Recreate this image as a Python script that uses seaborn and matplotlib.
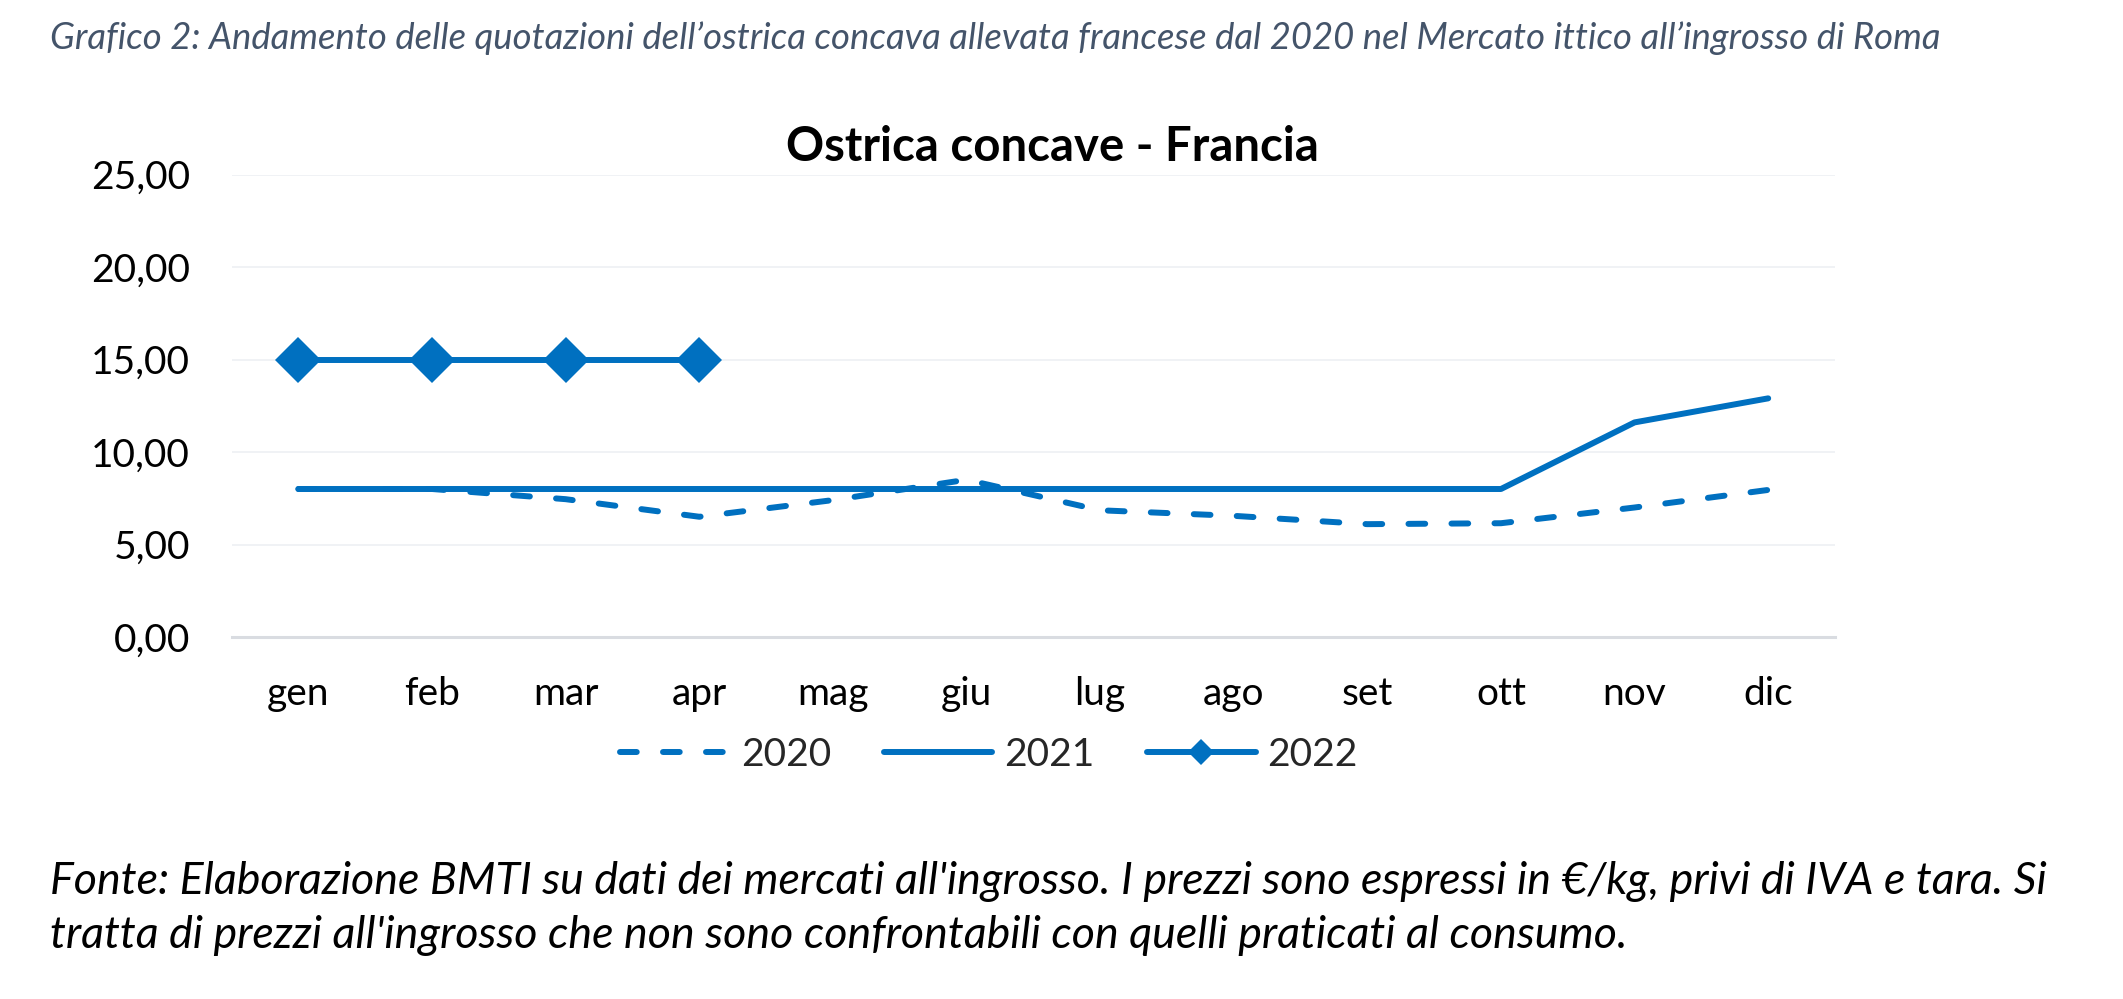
import matplotlib
matplotlib.use("Agg")
import matplotlib.pyplot as plt
import seaborn as sns
import pandas as pd
from matplotlib.lines import Line2D

months = ["gen", "feb", "mar", "apr", "mag", "giu", "lug", "ago", "set", "ott", "nov", "dic"]
v2020 = [8.0, 8.0, 7.45, 6.5, 7.4, 8.5, 6.85, 6.55, 6.1, 6.15, 7.0, 7.95]
v2021 = [8.0, 8.0, 8.0, 8.0, 8.0, 8.0, 8.0, 8.0, 8.0, 8.0, 11.6, 12.9]
v2022 = [15.0, 15.0, 15.0, 15.0]
yticks = [0, 5, 10, 15, 20, 25]
ytick_labels = ["0,00", "5,00", "10,00", "15,00", "20,00", "25,00"]

header = "Grafico 2: Andamento delle quotazioni dell\u2019ostrica concava allevata francese dal 2020 nel Mercato ittico all\u2019ingrosso di Roma"
title = "Ostrica concave - Francia"
footer1 = "Fonte: Elaborazione BMTI su dati dei mercati all'ingrosso. I prezzi sono espressi in \u20ac/kg, privi di IVA e tara. Si"
footer2 = "tratta di prezzi all'ingrosso che non sono confrontabili con quelli praticati al consumo."

sns.set_theme(style="white")
plt.rcParams['font.family'] = ['Lato', 'DejaVu Sans']

BLUE = "#0070C0"
DPI = 100
fig = plt.figure(figsize=(21.23, 9.99), dpi=DPI)
W, H = 2123, 999
left, right = 231.6 / W, 1835 / W
bottom, top = 1 - 637 / H, 1 - 174.5 / H
ax = fig.add_axes([left, bottom, right - left, top - bottom])

x = list(range(12))
df20 = pd.DataFrame({"x": x, "y": v2020})
df21 = pd.DataFrame({"x": x, "y": v2021})
df22 = pd.DataFrame({"x": x[:len(v2022)], "y": v2022})

lw = 4.3
sns.lineplot(data=df20, x="x", y="y", ax=ax, color=BLUE, lw=lw, dashes=False,
             solid_capstyle="round")
l20 = ax.lines[-1]
l20.set_dashes((2.8, 4.4))
l20.set_dash_capstyle("round")
l20.set_dash_joinstyle("round")
sns.lineplot(data=df21, x="x", y="y", ax=ax, color=BLUE, lw=lw,
             solid_capstyle="round", solid_joinstyle="round")
sns.lineplot(data=df22, x="x", y="y", ax=ax, color=BLUE, lw=lw, marker="D",
             markersize=23, markeredgewidth=0, solid_capstyle="round")

ax.set_xlim(-0.5, 11.5)
ax.set_ylim(0, 25)
ax.set_yticks(yticks)
ax.set_yticklabels(ytick_labels)
ax.set_xticks(x)
ax.set_xticklabels(months)
ax.set_xticks([i - 0.5 for i in range(13)], minor=True)
ax.set_xlabel("")
ax.set_ylabel("")

ax.grid(axis="y", color="#EEF0F3", lw=1.2)
ax.grid(axis="x", visible=False)
for s in ["top", "right", "left"]:
    ax.spines[s].set_visible(False)
ax.spines["bottom"].set_color("#D9DCE1")
ax.spines["bottom"].set_linewidth(2.2)
ax.set_axisbelow(True)

ax.tick_params(axis="y", length=0, pad=30, labelsize=28, labelcolor="black")
ax.tick_params(axis="x", which="major", length=0, pad=28, labelsize=28, labelcolor="black")
ax.tick_params(axis="x", which="minor", length=9, width=2.2, color="#D9DCE1", direction="out")

fig.text(50 / W, 1 - 38 / H, header, fontsize=26.3, style="italic", color="#44546A",
         ha="left", va="center")
fig.text(1052 / W, 1 - 147 / H, title, fontsize=34, fontweight="bold", color="black",
         ha="center", va="center")
fig.text(50 / W, 1 - 882 / H, footer1, fontsize=32.2, style="italic", color="black",
         ha="left", va="center")
fig.text(50 / W, 1 - 935 / H, footer2, fontsize=32.2, style="italic", color="black",
         ha="left", va="center")

handles = [
    Line2D([], [], color=BLUE, lw=lw, dashes=(2.8, 4.4), dash_capstyle="round"),
    Line2D([], [], color=BLUE, lw=lw, solid_capstyle="round"),
    Line2D([], [], color=BLUE, lw=lw, marker="D", markersize=13, markeredgewidth=0,
           solid_capstyle="round"),
]
fig.legend(handles, ["2020", "2021", "2022"], loc="center", bbox_to_anchor=(989 / W, 1 - 755 / H),
           ncol=3, frameon=False, fontsize=28, handlelength=2.8, handletextpad=0.3,
           columnspacing=1.35, borderpad=0, markerscale=1)

fig.savefig("out.png", dpi=DPI, facecolor="white")
